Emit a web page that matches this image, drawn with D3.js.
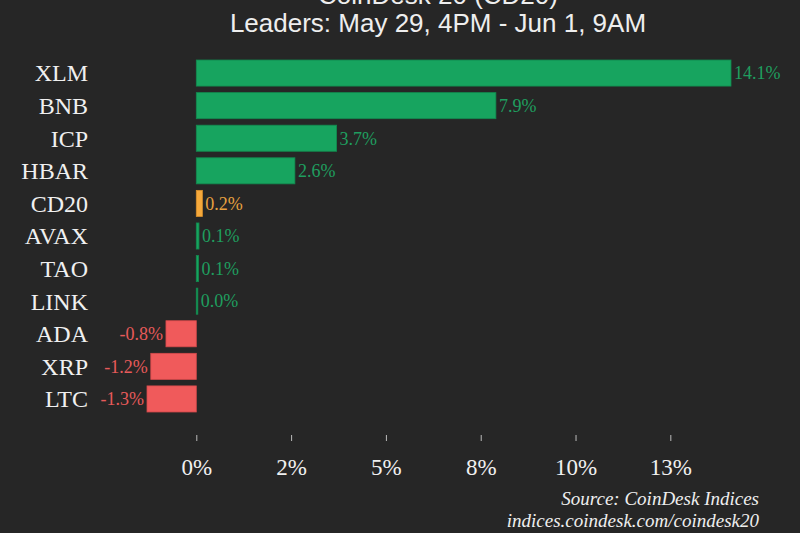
<!DOCTYPE html>
<html>
<head>
<meta charset="utf-8">
<script src="https://cdn.jsdelivr.net/npm/d3@7"></script>
<style>
  html, body { margin: 0; padding: 0; background: #262626; }
  svg { display: block; }
</style>
</head>
<body>
<svg width="800" height="533"></svg>
<script>
var names = ["XLM", "BNB", "ICP", "HBAR", "CD20", "AVAX", "TAO", "LINK", "ADA", "XRP", "LTC"];
var changes = [14.1, 7.9, 3.7, 2.6, 0.16, 0.07, 0.06, 0.04, -0.8, -1.2, -1.3];
var tickVals = [0, 2.5, 5, 7.5, 10, 12.5];
var tickLabels = ["0%", "2%", "5%", "8%", "10%", "13%"];

var svg = d3.select("svg"),
    serif = "'Liberation Serif', 'DejaVu Serif', serif",
    sans = "'Liberation Sans', Arial, sans-serif";

var data = names.map(function(n, i) { return {name: n, value: changes[i]}; });

var x = d3.scaleLinear()
    .domain([d3.min(changes), d3.max(changes)])
    .range([147, 731]);

var y = d3.scaleBand()
    .domain(names)
    .range([53.5, 418.5])
    .padding(0.2);

function fill(d) {
  if (d.name === "CD20") return "#f6a93b";
  return d.value < 0 ? "#f05a5b" : "#17a45f";
}
function stroke(d) {
  if (d.name === "CD20") return "#d9902c";
  return d.value < 0 ? "#d44a4b" : "#128a4f";
}
function textColor(d) {
  if (d.name === "CD20") return "#e8a140";
  return d.value < 0 ? "#e65a5a" : "#1f9e5f";
}

// title (top line is cut by the top edge, as in the original)
svg.append("text")
    .attr("x", 438).attr("y", 4)
    .attr("text-anchor", "middle")
    .attr("fill", "#eeeeee")
    .style("font-family", sans).style("font-size", "26px")
    .text("CoinDesk 20 (CD20)");

svg.append("text")
    .attr("x", 438).attr("y", 32)
    .attr("text-anchor", "middle")
    .attr("fill", "#eeeeee")
    .style("font-family", sans).style("font-size", "26px")
    .text("Leaders: May 29, 4PM - Jun 1, 9AM");

// bars
svg.append("g")
  .selectAll("rect")
  .data(data)
  .enter().append("rect")
    .attr("x", function(d) { return x(Math.min(0, d.value)); })
    .attr("y", function(d) { return y(d.name); })
    .attr("width", function(d) { return Math.max(1, Math.abs(x(d.value) - x(0))); })
    .attr("height", y.bandwidth())
    .attr("fill", fill)
    .attr("stroke", stroke)
    .attr("stroke-width", 0.8);

// category labels
svg.append("g")
  .selectAll("text")
  .data(data)
  .enter().append("text")
    .attr("x", 88)
    .attr("y", function(d) { return y(d.name) + y.bandwidth() / 2; })
    .attr("dy", "0.35em")
    .attr("text-anchor", "end")
    .attr("fill", "#f0f0f0")
    .style("font-family", serif).style("font-size", "24px")
    .text(function(d) { return d.name; });

// value labels
svg.append("g")
  .selectAll("text")
  .data(data)
  .enter().append("text")
    .attr("x", function(d) { return d.value < 0 ? x(d.value) - 3 : x(d.value) + 3; })
    .attr("y", function(d) { return y(d.name) + y.bandwidth() / 2; })
    .attr("dy", "0.35em")
    .attr("text-anchor", function(d) { return d.value < 0 ? "end" : "start"; })
    .attr("fill", textColor)
    .style("font-family", serif).style("font-size", "18px")
    .text(function(d) { return d.value.toFixed(1) + "%"; });

// axis
var axis = svg.append("g")
    .attr("transform", "translate(0,435)")
    .call(d3.axisBottom(x)
      .tickValues(tickVals)
      .tickFormat(function(d, i) { return tickLabels[i]; })
      .tickSize(6)
      .tickPadding(18));

axis.select(".domain").remove();
axis.selectAll("line").attr("stroke", "#bbbbbb");
axis.selectAll("text")
    .attr("fill", "#f0f0f0")
    .style("font-family", serif).style("font-size", "23px");

// source
svg.append("text")
    .attr("x", 759).attr("y", 505)
    .attr("text-anchor", "end")
    .attr("fill", "#eeeeee")
    .style("font-family", serif).style("font-size", "19px").style("font-style", "italic")
    .text("Source: CoinDesk Indices");

svg.append("text")
    .attr("x", 759).attr("y", 527)
    .attr("text-anchor", "end")
    .attr("fill", "#eeeeee")
    .style("font-family", serif).style("font-size", "19px").style("font-style", "italic")
    .text("indices.coindesk.com/coindesk20");
</script>
</body>
</html>
